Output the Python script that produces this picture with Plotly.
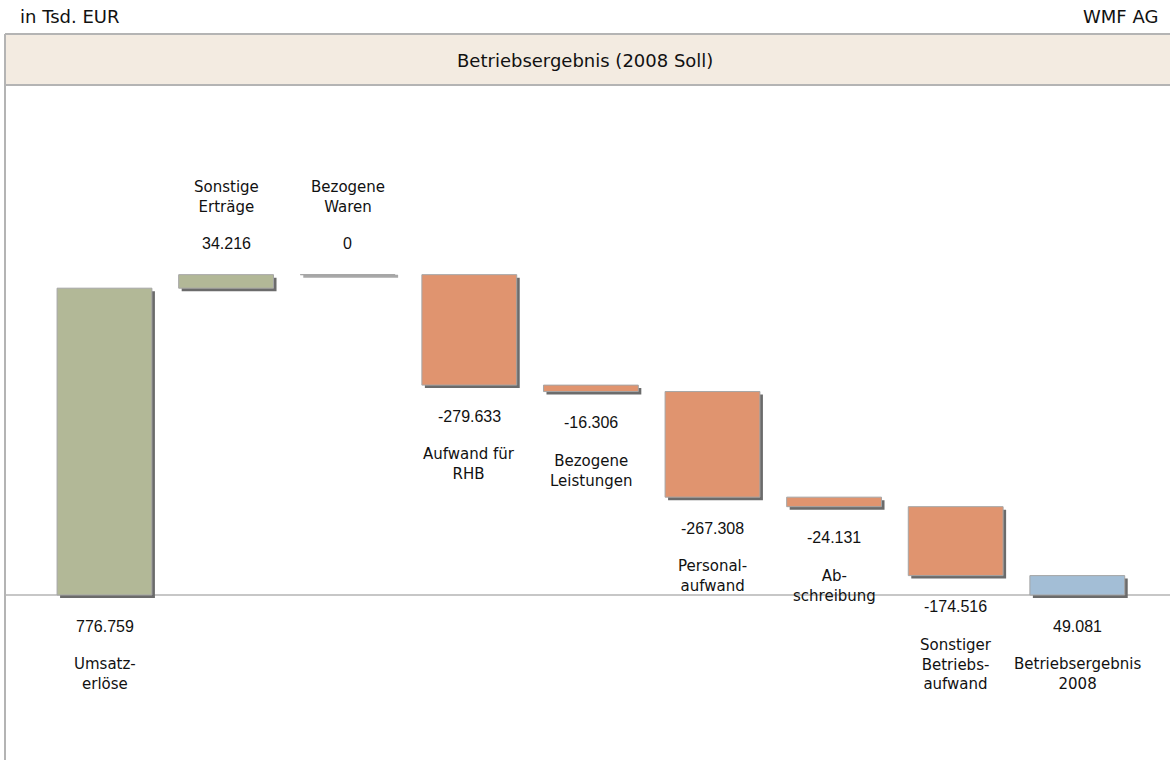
import plotly.graph_objects as go

# ---- data (in Tsd. EUR) ----
categories = ["Umsatz-<br>erlöse", "Sonstige<br>Erträge", "Bezogene<br>Waren", "Aufwand für<br>RHB",
              "Bezogene<br>Leistungen", "Personal-<br>aufwand", "Ab-<br>schreibung",
              "Sonstiger<br>Betriebs-<br>aufwand", "Betriebsergebnis<br>2008"]
values = [776759, 34216, 0, -279633, -16306, -267308, -24131, -174516, 49081]
kinds = ["total", "delta", "delta", "delta", "delta", "delta", "delta", "delta", "total"]

title_text = "Betriebsergebnis (2008 Soll)"
unit_text = "in Tsd. EUR"
company_text = "WMF AG"

GREEN = "#B2B897"
ORANGE = "#E0946F"
BLUE = "#A3BED6"
SHADOW = "#6B6B6B"
ZERO = "#A8A8A8"
FRAME = "#B4B4B4"

def fmt(v):
    s = f"{abs(v):,}".replace(",", ".")
    return ("-" if v < 0 else "") + s

# waterfall geometry from data
bottoms, heights, colors, ends_above = [], [], [], []
running = 0
for i, (v, k) in enumerate(zip(values, kinds)):
    if k == "total":
        b, h = 0, v
        running = v
        colors.append(GREEN if i == 0 else BLUE)
        ends_above.append(False)
    else:
        if v >= 0:
            b, h = running, v
            colors.append(GREEN)
            ends_above.append(True)
        else:
            b, h = running + v, -v
            colors.append(ORANGE)
            ends_above.append(False)
        running += v
    bottoms.append(b)
    heights.append(h)

W, H = 1170, 760
top_m, left_m = 85, 5
base_px = 595
k = 0.395 / 1000  # px per unit
yr = [-(H - base_px) / k, (base_px - top_m) / k]
cat_px = 121.6
c0 = 104.5
xr = [(left_m - c0) / cat_px, (W - c0) / cat_px]

dx = 3 / cat_px
dy = 3 / k
xs = list(range(len(values)))

fig = go.Figure()
fig.add_trace(go.Bar(
    x=[x + dx for x in xs],
    y=[h if h > 0 else dy for h in heights],
    base=[b - dy for b in bottoms],
    width=0.78,
    marker=dict(color=[SHADOW if h > 0 else ZERO for h in heights], line=dict(width=0)),
    hoverinfo="skip", showlegend=False,
))
fig.add_trace(go.Bar(
    x=xs, y=heights, base=bottoms, width=0.78,
    marker=dict(color=colors, line=dict(color="#A5A5A5", width=1)),
    hoverinfo="skip", showlegend=False,
))

annotations = []
for i, v in enumerate(values):
    if ends_above[i]:
        yv = bottoms[i] + heights[i]
        annotations.append(dict(x=xs[i], y=yv, xref="x", yref="y", text=fmt(v), showarrow=False,
                                yanchor="middle", yshift=31,
                                font=dict(family="Liberation Sans, Arial", size=16, color="#111")))
        annotations.append(dict(x=xs[i], y=yv, xref="x", yref="y", text=categories[i], showarrow=False,
                                yanchor="bottom", yshift=57,
                                font=dict(family="DejaVu Sans", size=15, color="#111")))
    else:
        yv = bottoms[i]
        annotations.append(dict(x=xs[i], y=yv, xref="x", yref="y", text=fmt(v), showarrow=False,
                                yanchor="middle", yshift=-31,
                                font=dict(family="Liberation Sans, Arial", size=16, color="#111")))
        annotations.append(dict(x=xs[i], y=yv, xref="x", yref="y", text=categories[i], showarrow=False,
                                yanchor="top", yshift=-58,
                                font=dict(family="DejaVu Sans", size=15, color="#111")))

plot_h = H - top_m
bar_top = 1 + (top_m - 34) / plot_h
annotations += [
    dict(x=(18 - left_m) / (W - left_m), y=1 + (top_m - 17) / plot_h, xref="paper", yref="paper",
         text=unit_text, showarrow=False, xanchor="left", yanchor="middle",
         font=dict(family="DejaVu Sans", size=18, color="#111")),
    dict(x=(1160 - left_m) / (W - left_m), y=1 + (top_m - 17) / plot_h, xref="paper", yref="paper",
         text=company_text, showarrow=False, xanchor="right", yanchor="middle",
         font=dict(family="DejaVu Sans", size=18, color="#111")),
    dict(x=(585 - left_m) / (W - left_m), y=1 + (top_m - 60) / plot_h, xref="paper", yref="paper",
         text=title_text, showarrow=False, xanchor="center", yanchor="middle",
         font=dict(family="DejaVu Sans", size=18, color="#111")),
]

shapes = [
    dict(type="rect", xref="paper", yref="paper", x0=0, x1=1.01, y0=1, y1=bar_top,
         fillcolor="#F3EBE1", line=dict(width=0), layer="below"),
    dict(type="line", xref="paper", yref="paper", x0=0, x1=1.01, y0=bar_top, y1=bar_top,
         line=dict(color=FRAME, width=2)),
    dict(type="line", xref="paper", yref="paper", x0=0, x1=1.01, y0=1, y1=1,
         line=dict(color=FRAME, width=2)),
    dict(type="line", xref="paper", yref="paper", x0=0, x1=0, y0=0, y1=bar_top,
         line=dict(color=FRAME, width=2)),
    dict(type="line", xref="paper", yref="y", x0=0, x1=1, y0=0, y1=0,
         line=dict(color=FRAME, width=1.5), layer="below"),
]

fig.update_layout(
    width=W, height=H, barmode="overlay",
    margin=dict(l=left_m, r=0, t=top_m, b=0),
    paper_bgcolor="white", plot_bgcolor="white",
    xaxis=dict(range=xr, visible=False, fixedrange=True),
    yaxis=dict(range=yr, visible=False, fixedrange=True),
    annotations=annotations, shapes=shapes, showlegend=False,
)
fig.write_html("out.html", config={"displayModeBar": False},
               post_script="document.body.style.margin='0';document.body.style.overflow='hidden';")
